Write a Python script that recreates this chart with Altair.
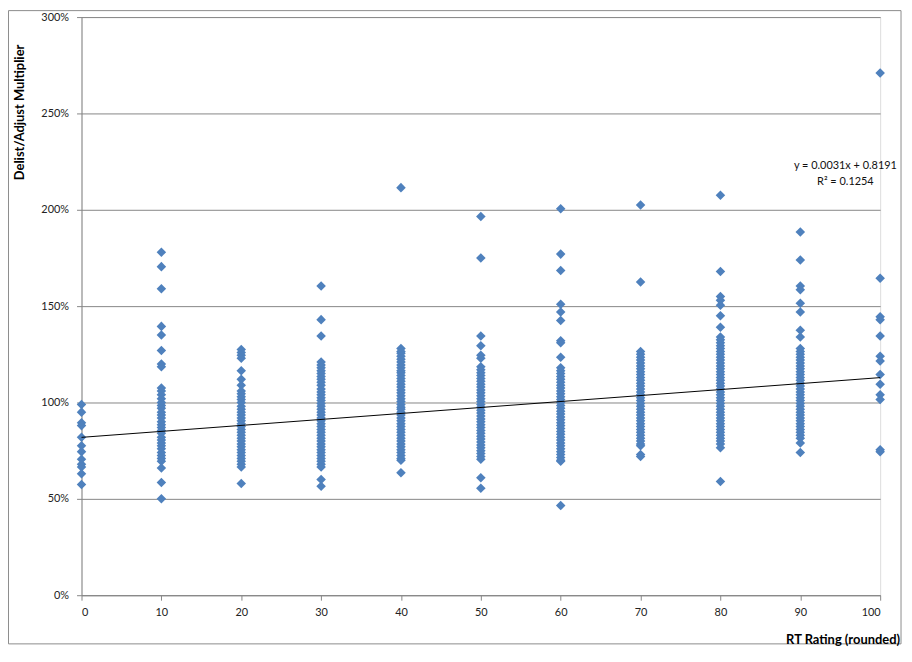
import altair as alt
import pandas as pd

# RT rating columns and the multiplier values (in %)
col_0 = [99, 95, 89.5, 88, 82, 77.5, 74.5, 70.5, 68, 66.5, 63, 57.5]
col_10 = [178, 170.5, 159, 139.5, 135, 127, 120, 118.5, 107.5, 106, 104, 102, 100, 98.5, 97, 95,
          93.5, 92, 90, 88.5, 87, 85.5, 84, 82, 80.5, 79, 77.5, 76, 74, 72.5, 71, 69.5, 66, 58.5, 50]
col_20 = [127.5, 126, 124.5, 123, 116.5, 112, 109, 106, 104.5, 103, 101.5, 100, 98, 96.5, 95, 93.5,
          92, 90.5, 89, 87.5, 86, 84.5, 83, 81.5, 80, 78.5, 77, 75.5, 74, 72.5, 71, 69.5, 68, 66.5, 58]
col_30 = [160.5, 143, 134.5, 121, 119.5, 118, 116.5, 115, 113.5, 112, 110.5, 109, 107, 105.5, 104,
          102.5, 101, 99.5, 98, 96.5, 95, 93.5, 92, 90.5, 89, 87.5, 86, 84.5, 83, 81.5, 80, 78.5, 77,
          75.5, 74, 72.5, 71, 69.5, 68, 66.5, 60, 56.5]
col_40 = [211.5, 128.0, 126.5, 125.5, 124.0, 122.5, 121.0, 119.5, 118.0, 116.5, 115.5, 114.0, 112.5,
          111.0, 109.5, 108.0, 106.5, 105.0, 103.5, 102.0, 100.5, 99.0, 97.5, 96.5, 95.0, 93.5, 92.0,
          90.5, 89.0, 87.5, 86.0, 84.5, 83.0, 81.5, 80.0, 78.5, 77.0, 75.5, 74.0, 72.5, 71.0, 70.0, 63.5]
col_50 = [196.5, 175, 134.5, 129.5, 124.5, 123, 118.5, 117.0, 115.5, 114.0, 112.5, 111.0, 109.5, 108.0,
          106.5, 105.0, 103.5, 102.0, 100.5, 99.0, 97.5, 96.0, 94.5, 93.0, 91.5, 90.0, 88.5, 87.0,
          85.5, 84.0, 82.5, 81.0, 79.5, 78.0, 76.5, 75.0, 73.5, 72.0, 70.5, 61, 55.5]
col_60 = [200.5, 177, 168.5, 151, 147, 142.5, 132, 131, 123.5, 118.0, 116.5, 115.0, 113.5, 112.0,
          110.5, 109.0, 107.5, 106.0, 104.5, 103.0, 101.5, 100.0, 98.5, 97.0, 95.5, 94.0, 92.5, 91.0,
          89.5, 88.0, 86.5, 85.0, 83.5, 82.0, 80.5, 79.0, 77.5, 76.0, 74.5, 73.0, 71.5, 70.0, 69.5, 46.5]
col_70 = [202.5, 162.5, 126.5, 125.0, 123.5, 122.0, 120.5, 119.0, 117.5, 116.0, 114.5, 113.0, 111.5,
          110.0, 108.5, 107.0, 105.5, 104.0, 102.5, 101.0, 99.5, 98.0, 96.5, 95.0, 93.5, 92.0, 90.5,
          89.0, 87.5, 86.0, 84.5, 83.0, 81.5, 80.0, 78.5, 77.5, 73.0, 72.0]
col_80 = [207.5, 168, 155, 153, 150.5, 145, 139, 134.0, 132.5, 131.0, 129.5, 128.0, 126.5, 125.0,
          123.5, 122.0, 120.5, 119.0, 117.5, 116.0, 114.5, 113.0, 111.5, 110.0, 108.5, 107.0, 105.5,
          104.0, 102.5, 101.0, 99.5, 98.0, 96.5, 95.0, 93.5, 92.0, 90.5, 89.0, 87.5, 86.0, 84.5, 83.0,
          81.5, 80.0, 78.5, 76.5, 59.0]
col_90 = [188.5, 174, 160.5, 158.5, 151.5, 147, 137.5, 134, 128.0, 126.5, 125.0, 123.5, 122.0, 120.5,
          119.0, 117.5, 116.0, 114.5, 113.0, 111.5, 110.0, 108.5, 107.0, 105.5, 104.0, 102.5, 101.0,
          99.5, 98.0, 96.5, 95.0, 93.5, 92.0, 90.5, 89.0, 87.5, 86.0, 84.5, 83.0, 81.5, 79.0, 74.0]
col_100 = [271, 164.5, 144.5, 143, 134.5, 124, 121.5, 114.5, 109.5, 104, 101.5, 75.5, 74.5]

ratings = [0, 10, 20, 30, 40, 50, 60, 70, 80, 90, 100]
columns = [col_0, col_10, col_20, col_30, col_40, col_50, col_60, col_70, col_80, col_90, col_100]

# published trendline
slope = 0.0031
intercept = 0.8191
trend_x = [0, 100]

x_ticks = [0, 10, 20, 30, 40, 50, 60, 70, 80, 90, 100]
y_ticks = [0, 50, 100, 150, 200, 250, 300]

rows = []
for r, vals in zip(ratings, columns):
    for v in vals:
        rows.append({"rating": r, "mult": v})
df = pd.DataFrame(rows)
trend_df = pd.DataFrame({"rating": trend_x,
                         "mult": [(intercept + slope * x) * 100 for x in trend_x]})

FONT = "Lato"
GRID = "#868686"

x_enc = alt.X("rating:Q", scale=alt.Scale(domain=[0, 100], nice=False),
              axis=alt.Axis(values=x_ticks, grid=False, title=None, domainColor=GRID,
                            tickColor=GRID, tickSize=5, labelPadding=6, labelFontSize=11,
                            labelColor="#222222", labelFont=FONT))
y_enc = alt.Y("mult:Q", scale=alt.Scale(domain=[0, 300], nice=False),
              axis=alt.Axis(values=y_ticks, grid=True, gridColor=GRID, title=None,
                            domainColor=GRID, tickColor=GRID, tickSize=5, labelPadding=8,
                            labelFontSize=11, labelColor="#222222", labelFont=FONT,
                            labelExpr="datum.value + '%'"))

points = alt.Chart(df).mark_point(shape="diamond", filled=True, size=92,
                                  color="#4F81BD", opacity=1).encode(x=x_enc, y=y_enc)

trend = alt.Chart(trend_df).mark_line(color="#000000", strokeWidth=1).encode(
    x="rating:Q", y="mult:Q")

one = alt.Data(values=[{"k": 1}])

eq1 = alt.Chart(one).mark_text(text="y = 0.0031x + 0.8191", font=FONT, fontSize=11,
                               align="center", baseline="middle", color="#111111").encode(
    x=alt.value(769), y=alt.value(150))
eq2 = alt.Chart(one).mark_text(text="R² = 0.1254", font=FONT, fontSize=11,
                               align="center", baseline="middle", color="#111111").encode(
    x=alt.value(769), y=alt.value(166))

ytitle = alt.Chart(one).mark_text(text="Delist/Adjust Multiplier", font=FONT, fontSize=13,
                                  fontWeight="bold", angle=270, align="center",
                                  baseline="middle", color="#000000").encode(
    x=alt.value(-62), y=alt.value(96))
xtitle = alt.Chart(one).mark_text(text="RT Rating (rounded)", font=FONT, fontSize=13,
                                  fontWeight="bold", align="right", baseline="middle",
                                  color="#000000").encode(
    x=alt.value(824), y=alt.value(627))

frame = alt.Chart(one).mark_rect(fillOpacity=0, stroke="#8c8c8c", strokeWidth=1).encode(
    x=alt.value(-73.5), x2=alt.value(825), y=alt.value(-6.5), y2=alt.value(631))

chart = alt.layer(frame, points, trend, eq1, eq2, ytitle, xtitle).properties(
    width=804, height=582,
    autosize=alt.AutoSizeParams(type="none"),
    padding={"left": 74, "top": 7, "right": 24, "bottom": 50},
).configure_view(stroke=None).configure(background="white")

chart.save("out.html", embed_options={"renderer": "svg", "actions": False})
